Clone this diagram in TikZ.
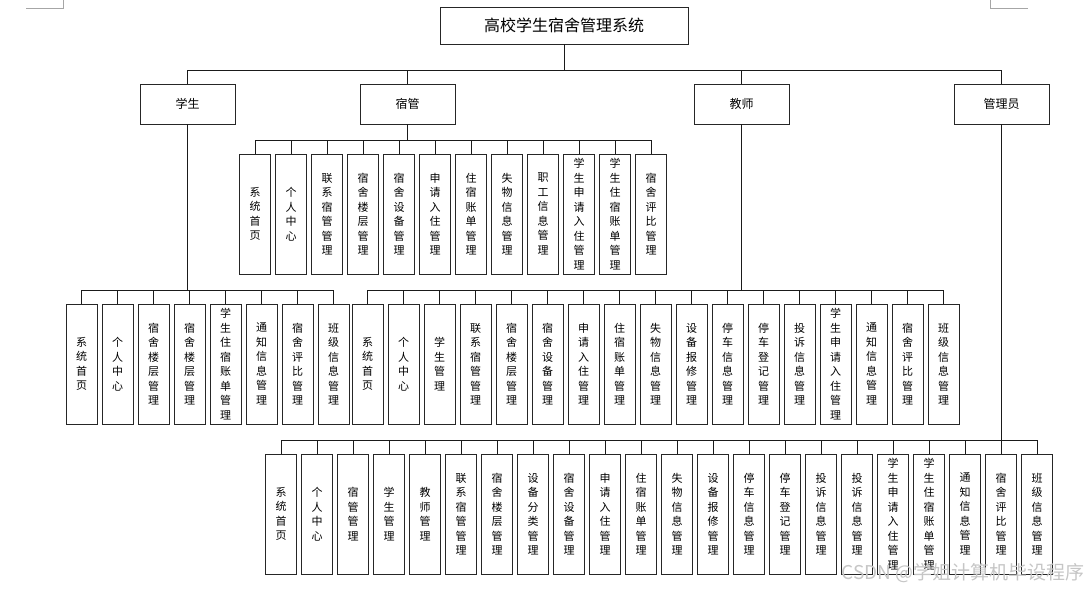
\documentclass[tikz,border=0pt]{standalone}
\usepackage{fontspec}
\setmainfont{Noto Sans CJK SC}
\usetikzlibrary{positioning,calc}
\XeTeXlinebreaklocale "zh"
\XeTeXlinebreakskip=0pt plus 1pt
\definecolor{BoxInk}{HTML}{262626}
\definecolor{LinkInk}{HTML}{1A1A1A}
\definecolor{MarkInk}{HTML}{A6A6A6}
\tikzset{
  topbox/.style={draw=BoxInk, line width=0.9pt, fill=white, minimum width=248pt,
             minimum height=37pt, inner sep=0pt, font=\fontsize{16}{18}\selectfont},
  rolebox/.style={draw=BoxInk, line width=0.9pt, fill=white, minimum width=95pt,
             minimum height=40pt, inner sep=0pt, font=\fontsize{12}{14}\selectfont},
  leafbox/.style={draw=BoxInk, line width=0.9pt, fill=white, minimum width=31pt,
             minimum height=120pt, inner sep=0pt, text width=11.5pt, align=center,
             font=\fontsize{11}{14.5}\selectfont},
  link/.style={line width=0.8pt, draw=LinkInk},
  cornermark/.style={line width=0.6pt, draw=MarkInk},
  watermark/.style={text=gray!45, font=\fontsize{19}{21}\selectfont, anchor=east},
}
\begin{document}
\begin{tikzpicture}[x=1pt, y=-1pt]
\useasboundingbox (0,0) rectangle (1092,590);
% page corner marks
\draw[cornermark] (26,8) -- (63,8) -- (63,0);
\draw[cornermark] (1028,8) -- (990,8) -- (990,0);
% root and roles
\node[topbox] (sys) at (564,25.5) {高校学生宿舍管理系统};
\node[rolebox] (stu) at (187.5,104) {学生};
\node[rolebox] (sg) at (407.5,104) {宿管};
\node[rolebox] (tea) at (741.5,104) {教师};
\node[rolebox] (adm) at (1001.5,104) {管理员};
\coordinate (topbus) at (0,70);
\coordinate (sgbus) at (0,140);
\coordinate (stubus) at (0,290);
\coordinate (teabus) at (0,290);
\coordinate (admbus) at (0,440);
\draw[link] (sys.south) -- (sys.south |- topbus);
\draw[link] (stu.north |- topbus) -- (adm.north |- topbus);
\foreach \r in {stu,sg,tea,adm}
  \draw[link] (\r.north) -- (\r.north |- topbus);
% 宿管
\foreach \t [count=\i] in {系统首页,个人中心,联系宿管管理,宿舍楼层管理,宿舍设备管理,申请入住管理,
    住宿账单管理,失物信息管理,职工信息管理,学生申请入住管理,学生住宿账单管理,宿舍评比管理}
  \node[leafbox] (sg\i) at ({255+(\i-1)*36},214) {\t};
\draw[link] (sg.south) -- (sg.south |- sgbus);
\draw[link] (sg1.north |- sgbus) -- (sg12.north |- sgbus);
\foreach \i in {1,...,12}
  \draw[link] (sg\i.north) -- (sg\i.north |- sgbus);
% 学生
\foreach \t [count=\i] in {系统首页,个人中心,宿舍楼层管理,宿舍楼层管理,学生住宿账单管理,通知信息管理,
    宿舍评比管理,班级信息管理}
  \node[leafbox] (stu\i) at ({81.5+(\i-1)*36},364) {\t};
\draw[link] (stu.south) -- (stu.south |- stubus);
\draw[link] (stu1.north |- stubus) -- (stu8.north |- stubus);
\foreach \i in {1,...,8}
  \draw[link] (stu\i.north) -- (stu\i.north |- stubus);
% 教师
\foreach \t [count=\i] in {系统首页,个人中心,学生管理,联系宿管管理,宿舍楼层管理,宿舍设备管理,申请入住管理,
    住宿账单管理,失物信息管理,设备报修管理,停车信息管理,停车登记管理,投诉信息管理,学生申请入住管理,
    通知信息管理,宿舍评比管理,班级信息管理}
  \node[leafbox] (tea\i) at ({367.5+(\i-1)*36},364) {\t};
\draw[link] (tea.south) -- (tea.south |- teabus);
\draw[link] (tea1.north |- teabus) -- (tea17.north |- teabus);
\foreach \i in {1,...,17}
  \draw[link] (tea\i.north) -- (tea\i.north |- teabus);
% 管理员
\foreach \t [count=\i] in {系统首页,个人中心,宿管管理,学生管理,教师管理,联系宿管管理,宿舍楼层管理,
    设备分类管理,宿舍设备管理,申请入住管理,住宿账单管理,失物信息管理,设备报修管理,停车信息管理,
    停车登记管理,投诉信息管理,投诉信息管理,学生申请入住管理,学生住宿账单管理,通知信息管理,
    宿舍评比管理,班级信息管理}
  \node[leafbox] (adm\i) at ({281+(\i-1)*36},514) {\t};
\draw[link] (adm.south) -- (adm.south |- admbus);
\draw[link] (adm1.north |- admbus) -- (adm22.north |- admbus);
\foreach \i in {1,...,22}
  \draw[link] (adm\i.north) -- (adm\i.north |- admbus);
\node[watermark] (wm) at (1088,573) {CSDN @学姐计算机毕设程序};
\end{tikzpicture}
\end{document}
